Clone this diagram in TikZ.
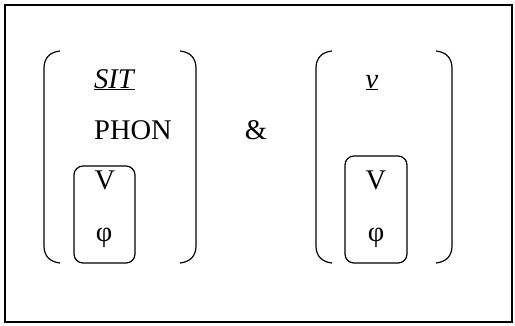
\documentclass[tikz,border=0pt]{standalone}
\usepackage{fontspec}
\setmainfont{Liberation Serif}
\begin{document}
\begin{tikzpicture}[x=1pt,y=-1pt,
  txt/.style={inner sep=0pt,font=\fontsize{28.5}{31}\selectfont},
  paren/.style={line width=1.2pt},
  innerbox/.style={draw,line width=1.2pt,rounded corners=9pt,inner sep=0pt}]
\useasboundingbox (0,0) rectangle (515,325);
\draw[line width=1.3pt] (5,5) rectangle (512,322);
% left bracket
\draw[paren] (60,51) .. controls (50,52) and (44,58) .. (44,68) -- (44,246) .. controls (44,256) and (50,262) .. (60,263);
\draw[paren] (180,51) .. controls (190,52) and (196,58) .. (196,68) -- (196,246) .. controls (196,256) and (190,262) .. (180,263);
\node[txt,anchor=base west] (sit) at (94,88) {\underline{\textit{SIT}}};
\node[txt,anchor=base west] (phon) at (94,139) {PHON};
\node[innerbox,minimum width=61pt,minimum height=97pt] (box1) at (104.5,214.5) {};
\node[txt,anchor=base] (v1) at (105,189) {V};
\node[txt,anchor=base] (phi1) at (104,241) {φ};
% ampersand
\node[txt,anchor=base] (amp) at (256,139) {\&};
% right bracket
\draw[paren] (332,51) .. controls (322,52) and (316,58) .. (316,68) -- (316,246) .. controls (316,256) and (322,262) .. (332,263);
\draw[paren] (436,51) .. controls (446,52) and (452,58) .. (452,68) -- (452,246) .. controls (452,256) and (446,262) .. (436,263);
\node[txt,anchor=base] (vv) at (372,88) {\underline{\textit{v}}};
\node[innerbox,minimum width=62pt,minimum height=107pt] (box2) at (376,209.5) {};
\node[txt,anchor=base] (v2) at (376,189) {V};
\node[txt,anchor=base] (phi2) at (376,241) {φ};
\end{tikzpicture}
\end{document}
